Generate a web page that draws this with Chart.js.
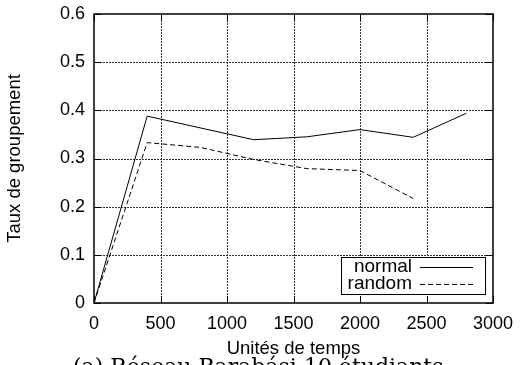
<!DOCTYPE html>
<html>
<head>
<meta charset="utf-8">
<script src="https://cdn.jsdelivr.net/npm/chart.js@4/dist/chart.umd.min.js"></script>
<style>
  html, body { margin: 0; padding: 0; background: #fff; }
  #wrap { width: 521px; height: 365px; }
</style>
</head>
<body>
<div id="wrap"><canvas id="chart" width="521" height="365"></canvas></div>
<script>
// data
const normalX = [0, 400, 1200, 1600, 2000, 2400, 2800];
const normalY = [0, 0.388, 0.339, 0.345, 0.360, 0.344, 0.394];
const randomX = [0, 400, 800, 1200, 1600, 2000, 2400];
const randomY = [0, 0.333, 0.323, 0.298, 0.279, 0.275, 0.217];
const xTicks = [0, 500, 1000, 1500, 2000, 2500, 3000];
const yTicks = [0, 0.1, 0.2, 0.3, 0.4, 0.5, 0.6];
const seriesNames = ['normal', 'random'];

const FONT = 'Liberation Sans, Arial, sans-serif';

const toPoints = (xs, ys) => xs.map((x, i) => ({ x: x, y: ys[i] }));

// dotted grid, drawn under the lines
const dotGrid = {
    id: 'dotGrid',
    beforeDatasetsDraw: (chart) => {
        const { ctx, chartArea: { left, right, top, bottom }, scales: { x, y } } = chart;
        ctx.save();
        ctx.strokeStyle = '#333';
        ctx.lineWidth = 1;
        ctx.setLineDash([2, 1]);
        ctx.beginPath();
        xTicks.slice(1, -1).forEach(v => {
            const px = Math.round(x.getPixelForValue(v)) + 0.5;
            ctx.moveTo(px, top); ctx.lineTo(px, bottom);
        });
        yTicks.slice(1, -1).forEach(v => {
            const py = Math.round(y.getPixelForValue(v)) + 0.5;
            ctx.moveTo(left, py); ctx.lineTo(right, py);
        });
        ctx.stroke();
        ctx.restore();
    }
};

// gnuplot style: small ticks pointing inwards on all four sides, plus the frame
const innerTicks = {
    id: 'innerTicks',
    afterDatasetsDraw: (chart) => {
        const { ctx, chartArea: { left, right, top, bottom }, scales: { x, y } } = chart;
        ctx.save();
        ctx.strokeStyle = '#000';
        ctx.lineWidth = 1;
        ctx.beginPath();
        xTicks.forEach(v => {
            const px = Math.round(x.getPixelForValue(v)) + 0.5;
            ctx.moveTo(px, bottom); ctx.lineTo(px, bottom - 7);
            ctx.moveTo(px, top); ctx.lineTo(px, top + 7);
        });
        yTicks.forEach(v => {
            const py = Math.round(y.getPixelForValue(v)) + 0.5;
            ctx.moveTo(left, py); ctx.lineTo(left + 7, py);
            ctx.moveTo(right, py); ctx.lineTo(right - 7, py);
        });
        ctx.stroke();
        ctx.lineWidth = 1.5;
        ctx.strokeRect(left, top, right - left, bottom - top);
        ctx.restore();
    }
};

// legend box in the lower right corner, like gnuplot's key
const keyBox = {
    id: 'keyBox',
    afterDraw: (chart) => {
        const { ctx } = chart;
        const bx = 341.5, by = 257.5, bw = 144, bh = 37;
        ctx.save();
        ctx.fillStyle = '#fff';
        ctx.fillRect(bx, by, bw, bh);
        ctx.strokeStyle = '#000';
        ctx.lineWidth = 1;
        ctx.strokeRect(bx, by, bw, bh);
        ctx.font = '19px ' + FONT;
        ctx.fillStyle = '#000';
        ctx.textAlign = 'right';
        ctx.textBaseline = 'middle';
        chart.data.datasets.forEach((ds, i) => {
            const ry = 267 + i * 16.5;
            ctx.fillText(seriesNames[i], 412, ry);
            ctx.beginPath();
            ctx.setLineDash(ds.borderDash || []);
            ctx.moveTo(420, Math.round(ry) + 0.5);
            ctx.lineTo(473, Math.round(ry) + 0.5);
            ctx.stroke();
        });
        ctx.restore();
    }
};

// caption of the figure, cut off at the bottom edge
const caption = {
    id: 'caption',
    afterDraw: (chart) => {
        const { ctx } = chart;
        ctx.save();
        ctx.font = '22px "DejaVu Serif", "Liberation Serif", serif';
        ctx.fillStyle = '#000';
        ctx.textAlign = 'left';
        ctx.textBaseline = 'alphabetic';
        ctx.fillText('(a) Réseau Barabási 10 étudiants', 73, 374);
        ctx.restore();
    }
};

new Chart(document.getElementById('chart'), {
    type: 'scatter',
    data: {
        datasets: [
            {
                label: seriesNames[0],
                data: toPoints(normalX, normalY),
                showLine: true,
                borderColor: '#000',
                borderWidth: 1,
                pointRadius: 0,
                tension: 0,
            },
            {
                label: seriesNames[1],
                data: toPoints(randomX, randomY),
                showLine: true,
                borderColor: '#000',
                borderWidth: 1,
                borderDash: [5, 3],
                pointRadius: 0,
                tension: 0,
            },
        ],
    },
    options: {
        responsive: false,
        animation: false,
        layout: { padding: { top: 14, right: 28, left: 0, bottom: 0 } },
        plugins: {
            legend: { display: false },
            tooltip: { enabled: false },
        },
        scales: {
            x: {
                type: 'linear',
                min: 0,
                max: 3000,
                afterBuildTicks: (axis) => { axis.ticks = xTicks.map(v => ({ value: v })); },
                afterFit: (axis) => {
                    axis.height = 62;
                    axis.paddingLeft = 0;
                    axis.paddingRight = 0;
                },
                ticks: {
                    color: '#000',
                    font: { family: FONT, size: 18 },
                    padding: 10,
                    maxRotation: 0,
                    callback: (v) => String(v),
                },
                grid: { drawOnChartArea: false, drawTicks: false },
                border: { display: false },
                title: {
                    display: true,
                    text: 'Unités de temps',
                    color: '#000',
                    font: { family: FONT, size: 18.5 },
                    padding: { top: 0, bottom: 5 },
                },
            },
            y: {
                type: 'linear',
                min: 0,
                max: 0.6,
                afterBuildTicks: (axis) => { axis.ticks = yTicks.map(v => ({ value: v })); },
                afterFit: (axis) => {
                    axis.width = 94;
                    axis.paddingTop = 0;
                    axis.paddingBottom = 0;
                },
                ticks: {
                    color: '#000',
                    font: { family: FONT, size: 18 },
                    padding: 9,
                    callback: (v) => String(Math.round(v * 10) / 10),
                },
                grid: { drawOnChartArea: false, drawTicks: false },
                border: { display: false },
                title: {
                    display: true,
                    text: 'Taux de groupement',
                    color: '#000',
                    font: { family: FONT, size: 18.5 },
                    padding: { top: 4, bottom: 0 },
                },
            },
        },
    },
    plugins: [dotGrid, innerTicks, keyBox, caption],
});
</script>
</body>
</html>
